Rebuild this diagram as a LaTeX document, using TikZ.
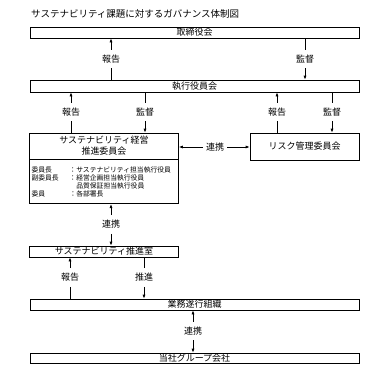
\documentclass[tikz,border=0pt]{standalone}
\usepackage{fontspec}
\setmainfont{Noto Sans CJK JP}
\usetikzlibrary{arrows.meta}

\begin{document}
\begin{tikzpicture}[x=1pt,y=-1pt,
        box/.style={draw, line width=0.7pt, inner sep=0pt, font=\fontsize{9}{9}\selectfont},
        lbl/.style={inner xsep=3pt, inner ysep=5pt, font=\fontsize{9}{9}\selectfont},
        arr/.style={-{Latex[length=4pt,width=3pt]}, line width=0.7pt},
        ln/.style={-, line width=0.7pt}]
    \useasboundingbox (0,0) rectangle (386,370);
    \node[anchor=west, inner sep=0pt, font=\fontsize{9.5}{9.5}\selectfont] (title) at (31,14) {サステナビリティ課題に対するガバナンス体制図};

    % boxes
    \node[box, minimum width=329pt, minimum height=11pt] (bod) at (194.5,32.5) {取締役会};
    \node[box, minimum width=329pt, minimum height=12pt] (exec) at (194.5,86) {執行役員会};
    \node[box, minimum width=149pt, minimum height=26pt, align=center,
        font=\fontsize{9}{11}\selectfont] (scom) at (104,146) {サステナビリティ経営\\推進委員会};
    \node[box, minimum width=149pt, minimum height=44pt, anchor=north, text width=145pt,
        align=left, font=\fontsize{6.8}{8}\selectfont] (smem) at (scom.south) {%
        \makebox[38pt][l]{委員長}：サステナビリティ担当執行役員\\
        \makebox[38pt][l]{副委員長}：経営企画担当執行役員\\
        \hspace*{44.8pt}品質保証担当執行役員\\
        \makebox[38pt][l]{委員}：各部署長};
    \node[box, minimum width=109pt, minimum height=27pt] (risk) at (304.5,146.5) {リスク管理委員会};
    \node[box, minimum width=149pt, minimum height=11pt] (office) at (104,251.5) {サステナビリティ推進室};
    \node[box, minimum width=329pt, minimum height=11pt] (ops) at (194.5,304.5) {業務遂行組織};
    \node[box, minimum width=329pt, minimum height=10pt] (grp) at (194.5,358) {当社グループ会社};

    % board <-> executive
    \node[lbl] (rep1) at (111,59) {報告};
    \node[lbl] (sup1) at (305,59) {監督};
    \draw[arr] (rep1.north) -- (rep1.north |- bod.south);
    \draw[ln] (rep1.south) -- (rep1.south |- exec.north);
    \draw[ln] (sup1.north) -- (sup1.north |- bod.south);
    \draw[arr] (sup1.south) -- (sup1.south |- exec.north);

    % executive <-> committees
    \node[lbl] (rep2) at (71,112) {報告};
    \node[lbl] (sup2) at (145,112) {監督};
    \node[lbl] (rep3) at (277,112) {報告};
    \node[lbl] (sup3) at (332,112) {監督};
    \draw[arr] (rep2.north) -- (rep2.north |- exec.south);
    \draw[ln] (rep2.south) -- (rep2.south |- scom.north);
    \draw[ln] (sup2.north) -- (sup2.north |- exec.south);
    \draw[arr] (sup2.south) -- (sup2.south |- scom.north);
    \draw[arr] (rep3.north) -- (rep3.north |- exec.south);
    \draw[ln] (rep3.south) -- (rep3.south |- risk.north);
    \draw[ln] (sup3.north) -- (sup3.north |- exec.south);
    \draw[arr] (sup3.south) -- (sup3.south |- risk.north);

    \node[lbl, inner ysep=2pt] (link1) at (215,147) {連携};
    \draw[arr] (link1.west) -- (link1.west -| scom.east);
    \draw[arr] (link1.east) -- (link1.east -| risk.west);

    % committee <-> office
    \node[lbl] (link2) at (111,224.5) {連携};
    \draw[arr] (link2.north) -- (link2.north |- smem.south);
    \draw[arr] (link2.south) -- (link2.south |- office.north);

    % office <-> operations
    \node[lbl] (rep4) at (70,277.5) {報告};
    \node[lbl] (push) at (144,277.5) {推進};
    \draw[arr] (rep4.north) -- (rep4.north |- office.south);
    \draw[ln] (rep4.south) -- (rep4.south |- ops.north);
    \draw[ln] (push.north) -- (push.north |- office.south);
    \draw[arr] (push.south) -- (push.south |- ops.north);

    % operations <-> group
    \node[lbl] (link3) at (193,331) {連携};
    \draw[arr] (link3.north) -- (link3.north |- ops.south);
    \draw[arr] (link3.south) -- (link3.south |- grp.north);
\end{tikzpicture}
\end{document}
